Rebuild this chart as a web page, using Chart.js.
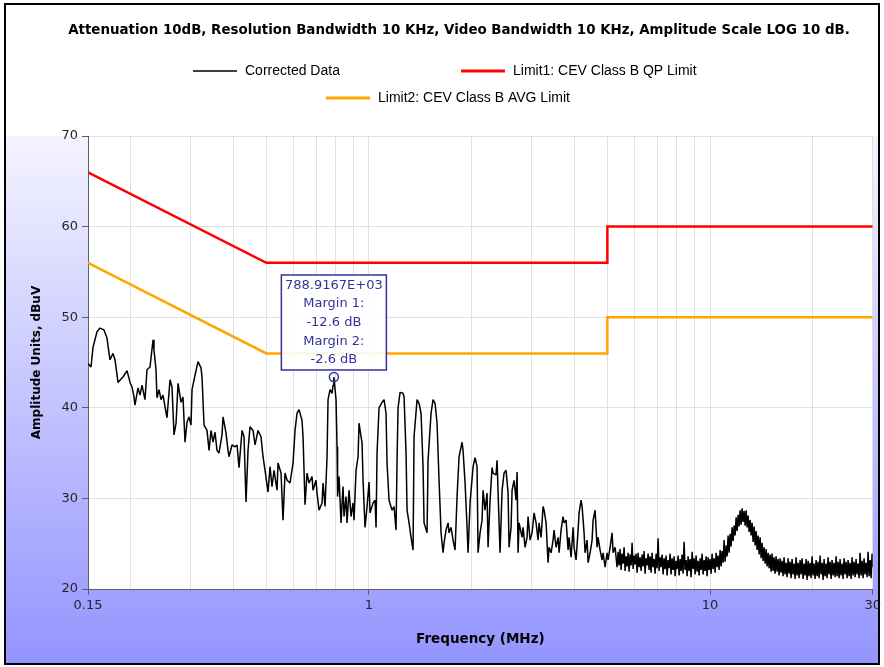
<!DOCTYPE html>
<html>
<head>
<meta charset="utf-8">
<title>Conducted emissions scan</title>
<script src="https://cdn.jsdelivr.net/npm/chart.js@4.4.1/dist/chart.umd.min.js"></script>
<style>
  html, body { margin: 0; padding: 0; background: #fff; }
</style>
</head>
<body>
<canvas id="scan" width="884" height="667"></canvas>
<script>
var titleText = 'Attenuation 10dB, Resolution Bandwidth 10 KHz, Video Bandwidth 10 KHz, Amplitude Scale LOG 10 dB.';
var xTitle = 'Frequency (MHz)';
var yTitle = 'Amplitude Units, dBuV';
var seriesNames = ['Corrected Data', 'Limit1: CEV Class B QP Limit', 'Limit2: CEV Class B AVG Limit'];
var seriesColors = ['#000000', '#ff0000', '#ffa500'];

// gridlines on the frequency axis, and the ones that carry a label (MHz)
var xTicks = [0.15, 0.2, 0.3, 0.4, 0.5, 0.6, 0.7, 0.8, 0.9, 1, 2, 3, 4, 5, 6, 7, 8, 9, 10, 20, 30];
var xLabels = [0.15, 1, 10, 30];
var yMin = 20, yMax = 70, yStep = 10;

// limit lines (MHz / dBuV)
var qpFreq = [0.15, 0.5, 5, 5, 30];
var qpLimit = [66, 56, 56, 60, 60];
var avgFreq = [0.15, 0.5, 5, 5, 30];
var avgLimit = [56, 46, 46, 50, 50];

// peak marker
var markerHz = 788916.7;
var markerLevel = 43.4;
var margin1 = -12.6;
var margin2 = -2.6;

// measured sweep (MHz)
var traceFreq = [
  0.1500,0.1531,0.1552,0.1594,0.1627,0.1671,0.1705,0.1740,0.1776,0.1800,
  0.1837,0.1887,0.1900,0.1952,0.1992,0.2019,0.2046,0.2060,0.2102,0.2131,
  0.2160,0.2204,0.2234,0.2280,0.2327,0.2342,0.2374,0.2390,0.2423,0.2456,
  0.2489,0.2523,0.2557,0.2610,0.2645,0.2681,0.2718,0.2755,0.2811,0.2849,
  0.2888,0.2927,0.2967,0.3007,0.3028,0.3090,0.3153,0.3217,0.3239,0.3283,
  0.3350,0.3396,0.3442,0.3489,0.3536,0.3584,0.3633,0.3707,0.3733,0.3809,
  0.3861,0.3887,0.3966,0.4048,0.4103,0.4158,0.4244,0.4301,0.4360,0.4419,
  0.4479,0.4571,0.4633,0.4728,0.4824,0.4890,0.4957,0.5058,0.5127,0.5196,
  0.5267,0.5375,0.5411,0.5522,0.5597,0.5673,0.5751,0.5868,0.5988,0.6070,
  0.6152,0.6236,0.6363,0.6407,0.6450,0.6494,0.6582,0.6671,0.6808,0.6854,
  0.6994,0.7042,0.7138,0.7284,0.7333,0.7433,0.7534,0.7585,0.7688,0.7792,
  0.7845,0.7889,0.8006,0.8060,0.8090,0.8170,0.8281,0.8393,0.8450,0.8565,
  0.8623,0.8741,0.8859,0.8980,0.9041,0.9164,0.9288,0.9351,0.9478,0.9542,
  0.9607,0.9738,0.9870,1.0005,1.0072,1.0278,1.0418,1.0489,1.0560,1.0703,
  1.0922,1.1071,1.1221,1.1297,1.1451,1.1685,1.1844,1.2005,1.2087,1.2169,
  1.2334,1.2586,1.2672,1.2844,1.2931,1.3107,1.3285,1.3466,1.3557,1.3835,
  1.4023,1.4213,1.4407,1.4504,1.4801,1.4901,1.5206,1.5413,1.5623,1.5835,
  1.6050,1.6268,1.6490,1.6602,1.6827,1.7056,1.7172,1.7405,1.7642,1.7882,
  1.8125,1.8372,1.8747,1.8874,1.9131,1.9391,1.9523,1.9788,2.0193,2.0468,
  2.0746,2.0887,2.1170,2.1458,2.1604,2.1897,2.2195,2.2346,2.2649,2.2957,
  2.3113,2.3586,2.3746,2.4069,2.4232,2.4561,2.4895,2.5234,2.5577,2.5750,
  2.6100,2.6277,2.6634,2.6997,2.7180,2.7364,2.7549,2.8113,2.8303,2.8688,
  2.9078,2.9276,2.9673,3.0077,3.0486,3.0900,3.1321,3.1533,3.1961,3.2396,
  3.2616,3.3059,3.3509,3.3736,3.4194,3.4659,3.4894,3.5369,3.5850,3.6093,
  3.6583,3.7081,3.7332,3.7840,3.8355,3.8614,3.9138,3.9671,3.9940,4.0483,
  4.1034,4.1312,4.1873,4.2157,4.2730,4.3020,4.3605,4.3901,4.4497,4.5102,
  4.5408,4.6025,4.6651,4.6968,4.7605,4.8253,4.8580,4.9241,4.9910,5.0249,
  5.0931,5.1624,5.1974,5.2681,
  5.3397,5.3758,5.4124,5.4490,5.4858,5.5229,5.5605,5.5981,5.6361,5.6743,
  5.7128,5.7515,5.7905,5.8297,5.8691,5.9088,5.9490,5.9893,6.0299,6.0707,
  6.1119,6.1533,6.1950,6.2369,6.2791,6.3216,6.3645,6.4076,6.4511,6.4948,
  6.5389,6.5832,6.6278,6.6727,6.7178,6.7633,6.8092,6.8553,6.9019,6.9486,
  6.9957,7.0431,7.0908,7.1388,7.1871,7.2358,7.2849,7.3342,7.3840,7.4340,
  7.4844,7.5351,7.5862,7.6376,7.6892,7.7413,7.7939,7.8467,7.8999,7.9534,
  8.0073,8.0615,8.1162,8.1711,8.2264,8.2821,8.3383,8.3947,8.4518,8.5090,
  8.5667,8.6247,8.6832,8.7420,8.8011,8.8607,8.9209,8.9813,9.0422,9.1034,
  9.1652,9.2272,9.2899,9.3528,9.4160,9.4797,9.5441,9.6087,9.6740,9.7395,
  9.8055,9.8719,9.9390,10.006,10.074,10.142,10.211,10.280,10.350,10.420,
  10.491,10.562,10.633,10.705,10.778,10.851,10.924,10.998,11.073,11.148,
  11.223,11.299,11.376,11.453,11.530,11.608,11.687,11.766,11.846,11.926,
  12.008,12.089,12.171,12.253,12.336,12.420,12.504,12.589,12.674,12.760,
  12.846,12.933,13.021,13.109,13.198,13.287,13.377,13.468,13.559,13.651,
  13.744,13.837,13.931,14.025,14.120,14.216,14.312,14.409,14.507,14.605,
  14.704,14.804,14.905,15.006,15.102,15.204,15.307,15.411,15.515,15.620,
  15.726,15.832,15.940,16.048,16.157,16.266,16.377,16.488,16.599,16.711,
  16.825,16.939,17.054,17.169,17.285,17.402,17.521,17.640,17.759,17.879,
  18.000,18.122,18.245,18.369,18.493,18.618,18.745,18.872,19.000,19.129,
  19.258,19.388,19.520,19.652,19.785,19.919,20.055,20.191,20.327,20.465,
  20.604,20.743,20.884,21.025,21.167,21.310,21.456,21.601,21.747,21.894,
  22.043,22.192,22.343,22.494,22.646,22.799,22.954,23.109,23.267,23.425,
  23.583,23.743,23.904,24.066,24.228,24.392,24.558,24.724,24.892,25.061,
  25.230,25.401,25.574,25.747,25.920,26.095,26.273,26.451,26.631,26.811,
  26.993,27.176,27.360,27.545,27.731,27.919,28.109,28.299,28.491,28.684,
  28.879,29.075,29.272,29.470,29.669,29.870,30.000
];
// measured level (dBuV)
var traceAmp = [
  44.9,44.5,46.7,48.4,48.8,48.6,47.7,45.3,46.0,45.3,
  42.8,43.3,43.4,44.1,42.8,42.3,41.2,40.3,42.2,41.4,
  42.5,40.9,44.2,44.5,47.5,46.4,44.2,41.1,42.0,40.9,
  41.4,40.1,38.9,43.1,42.3,37.0,38.3,42.7,40.6,41.2,
  36.2,38.4,39.0,38.1,42.0,43.6,45.1,44.4,43.4,38.1,
  37.5,35.3,37.5,36.2,37.3,35.3,35.0,37.0,39.0,37.2,
  35.3,34.6,35.9,35.7,35.9,33.4,37.5,36.8,29.6,35.3,
  37.9,37.5,35.9,37.5,36.8,34.6,33.1,30.7,33.5,31.3,
  33.1,30.9,33.9,32.8,27.6,32.8,32.0,31.7,33.9,37.5,
  39.4,39.8,38.6,36.8,33.1,29.3,32.8,31.7,32.4,30.9,
  32.0,30.6,28.7,29.5,31.7,29.1,34.6,40.9,42.0,41.6,
  42.5,43.4,40.9,35.7,30.2,32.4,27.3,31.3,28.0,30.2,
  27.3,30.9,28.0,29.5,27.6,33.1,34.6,38.3,36.8,36.2,
  32.0,26.8,29.1,31.8,28.4,29.5,29.8,26.8,35.0,40.0,
  40.6,40.9,39.4,33.9,29.8,28.7,29.1,26.5,34.2,40.0,
  41.7,41.6,41.2,35.0,28.7,27.3,25.7,24.3,36.8,40.9,
  40.5,39.4,33.5,27.3,26.2,34.2,39.4,40.9,40.5,38.3,
  32.0,26.2,24.0,25.1,26.5,27.3,26.2,26.8,25.4,24.3,
  30.2,34.6,36.2,35.3,31.7,26.8,24.0,29.5,33.5,34.5,
  33.5,24.0,26.2,27.6,30.9,28.7,30.6,24.6,29.8,33.4,
  32.8,32.6,34.2,27.3,24.0,30.9,32.8,33.1,30.6,24.6,
  26.8,30.9,32.0,29.8,32.9,24.0,27.3,25.7,26.8,24.6,
  25.7,28.0,25.4,26.2,28.4,27.3,25.4,27.3,25.7,29.1,
  28.7,27.3,22.9,24.6,24.0,25.4,26.5,24.6,25.7,24.0,
  26.5,28.0,27.3,27.6,24.3,25.7,23.5,26.8,24.6,23.2,
  26.5,28.4,29.8,29.1,26.2,24.0,25.4,22.9,24.0,25.4,
  27.6,28.7,24.6,25.7,24.3,23.2,24.0,22.4,24.0,23.2,
  24.6,26.2,24.0,24.6,
  22.4,24.1,22.6,24.4,22.1,23.9,22.8,24.6,22.0,23.6,
  22.5,24.0,21.9,23.8,22.6,25.1,22.2,23.7,22.7,23.9,
  21.8,24.0,22.4,23.5,22.0,23.8,22.5,24.2,21.7,23.4,
  22.6,23.9,22.1,23.6,21.8,24.0,22.4,23.3,21.7,23.9,
  22.3,25.6,22.0,23.5,22.4,23.8,21.6,23.4,22.2,23.7,
  21.5,23.2,22.3,23.9,21.6,23.4,22.1,23.6,21.4,23.1,
  22.2,23.7,21.5,23.3,22.0,23.8,21.7,25.2,22.1,23.2,
  21.4,23.6,22.0,23.3,21.3,24.1,22.2,23.4,21.6,23.7,
  21.9,23.1,21.5,23.4,22.1,23.9,21.6,23.2,22.0,23.6,
  21.4,23.5,22.1,23.3,21.7,23.9,22.2,23.4,21.8,24.0,
  22.4,23.7,22.1,24.3,22.5,24.2,22.9,25.4,23.0,24.8,
  23.6,25.9,24.0,26.1,24.7,26.8,25.3,27.0,25.9,27.9,
  26.4,28.2,26.9,28.7,27.1,28.9,27.4,28.6,27.0,28.7,
  26.8,28.1,26.3,27.6,25.9,27.3,25.2,26.9,24.8,26.4,
  24.3,25.9,23.8,25.7,23.4,25.1,23.1,24.6,22.8,24.4,
  22.5,24.0,22.3,23.8,21.9,23.9,22.0,23.5,21.7,23.6,
  21.9,23.3,21.5,23.4,21.8,23.1,21.4,23.5,21.6,22.9,
  21.3,23.4,21.7,23.0,21.2,23.3,21.6,22.8,21.1,23.5,
  21.5,22.9,21.2,23.2,21.6,23.4,21.1,22.8,21.5,23.3,
  21.0,23.1,21.4,22.9,21.2,23.6,21.5,22.8,21.1,23.2,
  21.4,23.0,21.2,23.7,21.6,22.9,21.0,23.3,21.4,22.8,
  21.2,23.5,21.6,23.0,21.1,23.2,21.5,22.9,21.3,23.6,
  21.4,23.0,21.2,23.3,21.5,22.8,21.1,23.4,21.6,23.0,
  21.2,23.2,21.4,22.9,21.1,23.5,21.5,23.0,21.3,23.3,
  21.6,22.8,21.2,24.0,21.5,23.1,21.2,23.4,21.6,22.9,
  21.3,24.1,21.4,23.2,21.2,23.9,22.4
];

function points(xs, ys) {
  return xs.map(function (x, i) { return {x: x, y: ys[i]}; });
}

// white header, blue gradient round the plot, black frame
var frame = {
  id: 'frame',
  beforeDraw: function (chart) {
    var ctx = chart.ctx, a = chart.chartArea;
    ctx.save();
    ctx.fillStyle = '#ffffff';
    ctx.fillRect(0, 0, chart.width, chart.height);
    var g = ctx.createLinearGradient(0, a.top, 0, chart.height - 3);
    g.addColorStop(0, '#f4f4ff');
    g.addColorStop(1, '#9494ff');
    ctx.fillStyle = g;
    ctx.fillRect(5, a.top, chart.width - 10, chart.height - a.top - 3);
    ctx.fillStyle = '#ffffff';
    ctx.fillRect(a.left, a.top, a.right - a.left, a.bottom - a.top);
    ctx.restore();
  },
  afterDraw: function (chart) {
    var ctx = chart.ctx;
    ctx.save();
    ctx.strokeStyle = '#000000';
    ctx.lineWidth = 2;
    ctx.strokeRect(5, 4, chart.width - 10, chart.height - 7);
    ctx.restore();
  }
};

// title and the two-row legend above the plot
var header = {
  id: 'header',
  afterDraw: function (chart) {
    var ctx = chart.ctx;
    var spots = [[193, 71], [461, 71], [326, 98]];
    ctx.save();
    ctx.fillStyle = '#000000';
    ctx.textAlign = 'center';
    ctx.textBaseline = 'middle';
    ctx.font = 'bold 13.4px "DejaVu Sans", sans-serif';
    ctx.fillText(titleText, 459, 31);
    ctx.textAlign = 'left';
    ctx.font = '14px "Liberation Sans", Arial, sans-serif';
    chart.data.datasets.forEach(function (ds, i) {
      var x = spots[i][0], y = spots[i][1];
      ctx.strokeStyle = i === 0 ? '#404040' : ds.borderColor;
      ctx.lineWidth = i === 0 ? 2 : 3;
      ctx.beginPath();
      ctx.moveTo(x, y);
      ctx.lineTo(x + 44, y);
      ctx.stroke();
      ctx.fillStyle = '#000000';
      ctx.fillText(ds.label, x + 52, y);
    });
    ctx.restore();
  }
};

// margin callout over the highest peak
var marker = {
  id: 'marker',
  afterDatasetsDraw: function (chart) {
    var ctx = chart.ctx;
    var mx = chart.scales.x.getPixelForValue(markerHz / 1e6);
    var my = chart.scales.y.getPixelForValue(markerLevel);
    var lines = [(markerHz / 1000).toFixed(4) + 'E+03', 'Margin 1:', margin1.toFixed(1) + ' dB',
                 'Margin 2:', margin2.toFixed(1) + ' dB'];
    var w = 105, h = 95;
    var bottom = my - 7, top = bottom - h;
    ctx.save();
    ctx.fillStyle = 'rgba(255,255,255,0.9)';
    ctx.fillRect(mx - w / 2, top, w, h);
    ctx.strokeStyle = '#333399';
    ctx.lineWidth = 1.5;
    ctx.strokeRect(mx - w / 2, top, w, h);
    ctx.fillStyle = '#333399';
    ctx.font = '13px "DejaVu Sans", sans-serif';
    ctx.textAlign = 'center';
    ctx.textBaseline = 'middle';
    lines.forEach(function (t, i) {
      ctx.fillText(t, mx, top + 10.5 + i * 18.6);
    });
    ctx.beginPath();
    ctx.arc(mx, my, 4.5, 0, Math.PI * 2);
    ctx.stroke();
    ctx.restore();
  }
};

var tickFont = {family: '"DejaVu Sans", sans-serif', size: 13};

var ctx = document.getElementById('scan');
var myChart = new Chart(ctx, {
  type: 'line',
  data: {
    datasets: [
      {
        label: seriesNames[0],
        data: points(traceFreq, traceAmp),
        borderColor: seriesColors[0],
        borderWidth: 1.5,
        borderJoinStyle: 'bevel',
        pointRadius: 0,
        fill: false
      },
      {
        label: seriesNames[1],
        data: points(qpFreq, qpLimit),
        borderColor: seriesColors[1],
        borderWidth: 2.5,
        pointRadius: 0,
        fill: false
      },
      {
        label: seriesNames[2],
        data: points(avgFreq, avgLimit),
        borderColor: seriesColors[2],
        borderWidth: 2.5,
        pointRadius: 0,
        fill: false
      }
    ]
  },
  options: {
    responsive: false,
    animation: false,
    devicePixelRatio: 1,
    layout: { padding: { top: 136, right: 11, bottom: 0, left: 0 } },
    plugins: {
      legend: { display: false },
      tooltip: { enabled: false }
    },
    scales: {
      x: {
        type: 'logarithmic',
        min: xTicks[0],
        max: xTicks[xTicks.length - 1],
        afterBuildTicks: function (scale) {
          scale.ticks = xTicks.map(function (v) { return {value: v}; });
        },
        afterFit: function (scale) { scale.height = 78; },
        ticks: {
          autoSkip: false,
          maxRotation: 0,
          padding: 3,
          color: '#262626',
          font: tickFont,
          callback: function (v) { return xLabels.indexOf(v) >= 0 ? String(v) : ''; }
        },
        grid: {
          color: '#e0e0e0',
          tickLength: 6,
          tickColor: function (c) {
            return c.tick && xLabels.indexOf(c.tick.value) >= 0 ? '#606060' : 'rgba(0,0,0,0)';
          }
        },
        border: { color: '#606060' },
        title: {
          display: true,
          text: xTitle,
          color: '#000000',
          font: {family: '"DejaVu Sans", sans-serif', size: 13.5, weight: 'bold'},
          padding: {top: 4, bottom: 19}
        }
      },
      y: {
        min: yMin,
        max: yMax,
        afterFit: function (scale) { scale.width = 88; },
        ticks: { stepSize: yStep, padding: 4, color: '#262626', font: tickFont },
        grid: { color: '#e0e0e0', tickLength: 6, tickColor: '#606060' },
        border: { color: '#606060' },
        title: {
          display: true,
          text: yTitle,
          color: '#000000',
          font: {family: '"DejaVu Sans", sans-serif', size: 12, weight: 'bold'},
          padding: {top: 30, bottom: 0}
        }
      }
    }
  },
  plugins: [frame, header, marker]
});
</script>
</body>
</html>
